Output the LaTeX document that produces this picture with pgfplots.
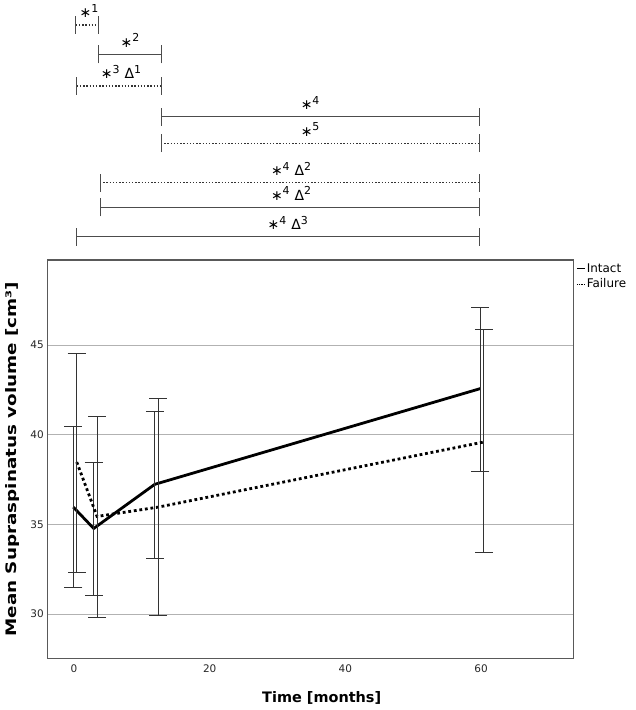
\documentclass[border=0pt]{standalone}
\usepackage{fontspec}
\setmainfont{DejaVu Sans}
\usepackage{pgfplots}
\pgfplotsset{compat=1.18}
\usepackage{pgfplotstable}

% mean, upper and lower error
\pgfplotstableread{
x     y      ep    em
-0.1  35.96  4.50  4.46
2.9   34.77  3.67  3.73
11.9  37.23  4.07  4.15
59.9  42.57  4.51  4.62
}\intact
\pgfplotstableread{
x     y      ep    em
0.4   38.47  6.08  6.13
3.4   35.44  5.60  5.65
12.4  35.96  6.08  6.05
60.4  39.59  6.28  6.15
}\failure

\newcommand{\sig}[1]{\raisebox{0.4em}{\fontsize{11}{11}\selectfont #1}}
\newcommand{\st}{{\fontsize{14}{14}\selectfont ∗}}
\tikzset{
  solidbr/.style={black!70, line width=1bp},
  dotbr/.style={black!80, line width=1.4bp, dash pattern=on 1.4bp off 1.8bp},
}
% x1, x2, y, style, label x, label
\newcommand{\bracket}[6]{%
  \draw[#4] (axis cs:#1,#3) -- (axis cs:#2,#3);
  \draw[solidbr] ([yshift=-9bp]axis cs:#1,#3) -- ([yshift=9bp]axis cs:#1,#3);
  \draw[solidbr] ([yshift=-9bp]axis cs:#2,#3) -- ([yshift=9bp]axis cs:#2,#3);
  \node[anchor=base, inner sep=0pt, yshift=7bp, font=\fontsize{14}{14}\selectfont]
    at (axis cs:#5,#3) {#6};
}

\begin{document}
\begin{tikzpicture}
\begin{axis}[
    scale only axis,
    width=526bp, height=398.3bp,
    xmin=-3.94, xmax=73.6,
    ymin=27.53, ymax=49.74,
    xtick={0,20,40,60},
    ytick={30,35,40,45},
    ymajorgrids=true,
    grid style={black!30, line width=0.9bp},
    major tick length=0pt,
    axis line style={black!65, line width=1.2bp},
    /pgf/number format/assume math mode=true,
    tick label style={font=\fontsize{10.5}{12}\selectfont, black!85},
    xticklabel style={yshift=-3bp},
    xlabel={Time [months]},
    ylabel={\scalebox{1.27}[1]{Mean Supraspinatus volume [cm³]}},
    xlabel style={font=\fontsize{14.5}{17}\selectfont\bfseries,
      at={(axis description cs:0.5217,-0.1115)}, anchor=base},
    ylabel style={font=\fontsize{14.5}{17}\selectfont\bfseries,
      at={(axis description cs:-0.0665,0.5)}, anchor=center},
    clip=false,
    legend image code/.code={\draw[#1] (0bp,0bp) -- (8bp,0bp);},
    legend style={at={(axis description cs:1,1)}, anchor=north west,
      xshift=3bp, yshift=-2bp, draw=none, fill=none, inner sep=0pt,
      font=\fontsize{12}{14}\selectfont, row sep=2bp,
      nodes={inner sep=1.5bp}},
    legend cell align=left,
]

\addplot[black, line width=2.8bp, forget plot,
    error bars/.cd, y dir=both, y explicit,
    error bar style={black!80, line width=1bp, solid},
    error mark options={black!80, line width=1bp, mark size=9bp, rotate=90, solid}]
  table[x=x, y=y, y error plus=ep, y error minus=em] {\intact};
\addplot[black, line width=2.8bp, dash pattern=on 2.8bp off 2.8bp, forget plot,
    error bars/.cd, y dir=both, y explicit,
    error bar style={black!80, line width=1bp, solid},
    error mark options={black!80, line width=1bp, mark size=9bp, rotate=90, solid}]
  table[x=x, y=y, y error plus=ep, y error minus=em] {\failure};

\addlegendimage{black, line width=0.8bp}
\addlegendentry{Intact}
\addlegendimage{black, line width=0.8bp, dash pattern=on 0.9bp off 0.9bp}
\addlegendentry{Failure}

% significance brackets above the axis
\bracket{0.25}{3.58}{62.85}{dotbr}{2.21}{\st\sig{1}}
\bracket{3.58}{12.83}{61.21}{solidbr}{8.26}{\st\sig{2}}
\bracket{0.4}{12.83}{59.45}{dotbr}{6.93}{\st\sig{3}\hspace{5bp}Δ\sig{1}}
\bracket{12.83}{59.73}{57.73}{solidbr}{34.8}{\st\sig{4}}
\bracket{12.83}{59.73}{56.25}{dotbr}{34.8}{\st\sig{5}}
\bracket{3.83}{59.73}{54.05}{dotbr}{32.0}{\st\sig{4}\hspace{5bp}Δ\sig{2}}
\bracket{3.83}{59.73}{52.68}{solidbr}{32.0}{\st\sig{4}\hspace{5bp}Δ\sig{2}}
\bracket{0.4}{59.73}{51.04}{solidbr}{31.5}{\st\sig{4}\hspace{5bp}Δ\sig{3}}

\end{axis}
\pgfresetboundingbox
\path (current axis.south west) ++(-47.3bp,-51.7bp) rectangle ++(636bp,710bp);
\end{tikzpicture}
\end{document}
